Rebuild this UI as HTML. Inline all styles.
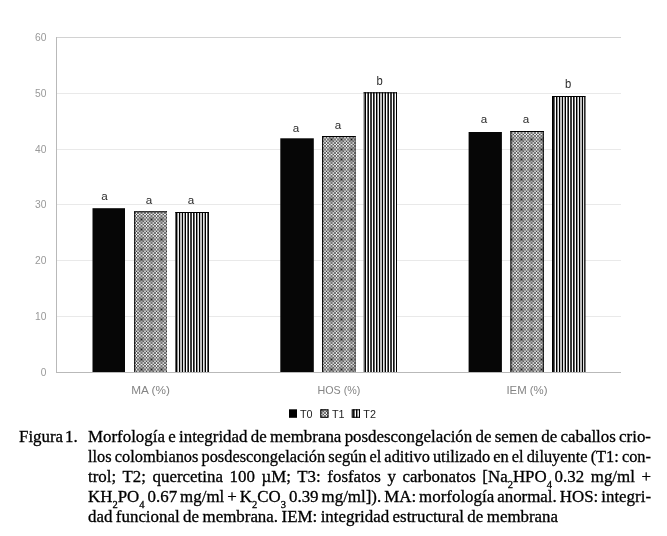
<!DOCTYPE html>
<html lang="es">
<head>
<meta charset="utf-8">
<title>Figura 1</title>
<style>
html,body{margin:0;padding:0;background:#fff;}
body{width:667px;height:536px;position:relative;overflow:hidden;font-family:"Liberation Serif",serif;}
#chart{position:absolute;left:0;top:0;width:667px;height:536px;}
#chart text{font-family:"Liberation Sans",sans-serif;}
.cap{position:absolute;font-family:"Liberation Serif",serif;font-size:16.9px;line-height:20px;color:#000;white-space:nowrap;height:20px;-webkit-text-stroke:0.3px #000;}
.j{left:88px;width:563px;transform-origin:0 0;text-align:justify;text-align-last:justify;white-space:normal;word-spacing:-3px;}
.ts{display:inline-block;width:2.6px;}
.cap sub{font-size:10.5px;vertical-align:baseline;position:relative;top:5.5px;line-height:0;}
</style>
</head>
<body>
<svg id="chart" width="667" height="536" viewBox="0 0 667 536">
  <defs>
    <pattern id="pT1" x="16" y="14" width="20" height="20" patternUnits="userSpaceOnUse">
      <rect width="20" height="20" fill="#fff"/>
      <g shape-rendering="crispEdges"><rect x="0" y="0" width="1" height="1" fill="#4c4c4c"/><rect x="1" y="0" width="2" height="1" fill="#ededed"/><rect x="3" y="0" width="1" height="1" fill="#4e4e4e"/><rect x="4" y="0" width="1" height="1" fill="#9f9f9f"/><rect x="5" y="0" width="1" height="1" fill="#ededed"/><rect x="6" y="0" width="1" height="1" fill="#9f9f9f"/><rect x="7" y="0" width="1" height="1" fill="#4e4e4e"/><rect x="8" y="0" width="2" height="1" fill="#ededed"/><rect x="10" y="0" width="1" height="1" fill="#4c4c4c"/><rect x="11" y="0" width="2" height="1" fill="#ededed"/><rect x="13" y="0" width="1" height="1" fill="#4e4e4e"/><rect x="14" y="0" width="1" height="1" fill="#9f9f9f"/><rect x="15" y="0" width="1" height="1" fill="#ededed"/><rect x="16" y="0" width="1" height="1" fill="#9f9f9f"/><rect x="17" y="0" width="1" height="1" fill="#4e4e4e"/><rect x="18" y="0" width="2" height="1" fill="#ededed"/><rect x="0" y="1" width="1" height="1" fill="#ededed"/><rect x="1" y="1" width="2" height="1" fill="#787878"/><rect x="3" y="1" width="1" height="1" fill="#c6c6c6"/><rect x="4" y="1" width="1" height="1" fill="#9f9f9f"/><rect x="5" y="1" width="1" height="1" fill="#787878"/><rect x="6" y="1" width="1" height="1" fill="#9f9f9f"/><rect x="7" y="1" width="1" height="1" fill="#c6c6c6"/><rect x="8" y="1" width="2" height="1" fill="#787878"/><rect x="10" y="1" width="1" height="1" fill="#ededed"/><rect x="11" y="1" width="2" height="1" fill="#787878"/><rect x="13" y="1" width="1" height="1" fill="#c6c6c6"/><rect x="14" y="1" width="1" height="1" fill="#9f9f9f"/><rect x="15" y="1" width="1" height="1" fill="#787878"/><rect x="16" y="1" width="1" height="1" fill="#9f9f9f"/><rect x="17" y="1" width="1" height="1" fill="#c6c6c6"/><rect x="18" y="1" width="2" height="1" fill="#787878"/><rect x="0" y="2" width="1" height="1" fill="#ededed"/><rect x="1" y="2" width="2" height="1" fill="#787878"/><rect x="3" y="2" width="1" height="1" fill="#c6c6c6"/><rect x="4" y="2" width="1" height="1" fill="#9f9f9f"/><rect x="5" y="2" width="1" height="1" fill="#787878"/><rect x="6" y="2" width="1" height="1" fill="#9f9f9f"/><rect x="7" y="2" width="1" height="1" fill="#c6c6c6"/><rect x="8" y="2" width="2" height="1" fill="#787878"/><rect x="10" y="2" width="1" height="1" fill="#ededed"/><rect x="11" y="2" width="2" height="1" fill="#787878"/><rect x="13" y="2" width="1" height="1" fill="#c6c6c6"/><rect x="14" y="2" width="1" height="1" fill="#9f9f9f"/><rect x="15" y="2" width="1" height="1" fill="#787878"/><rect x="16" y="2" width="1" height="1" fill="#9f9f9f"/><rect x="17" y="2" width="1" height="1" fill="#c6c6c6"/><rect x="18" y="2" width="2" height="1" fill="#787878"/><rect x="0" y="3" width="1" height="1" fill="#4e4e4e"/><rect x="1" y="3" width="2" height="1" fill="#c6c6c6"/><rect x="3" y="3" width="1" height="1" fill="#646464"/><rect x="4" y="3" width="1" height="1" fill="#878787"/><rect x="5" y="3" width="1" height="1" fill="#a9a9a9"/><rect x="6" y="3" width="1" height="1" fill="#878787"/><rect x="7" y="3" width="1" height="1" fill="#646464"/><rect x="8" y="3" width="2" height="1" fill="#c6c6c6"/><rect x="10" y="3" width="1" height="1" fill="#4e4e4e"/><rect x="11" y="3" width="2" height="1" fill="#c6c6c6"/><rect x="13" y="3" width="1" height="1" fill="#646464"/><rect x="14" y="3" width="1" height="1" fill="#878787"/><rect x="15" y="3" width="1" height="1" fill="#a9a9a9"/><rect x="16" y="3" width="1" height="1" fill="#878787"/><rect x="17" y="3" width="1" height="1" fill="#646464"/><rect x="18" y="3" width="2" height="1" fill="#c6c6c6"/><rect x="0" y="4" width="3" height="1" fill="#9f9f9f"/><rect x="3" y="4" width="1" height="1" fill="#878787"/><rect x="4" y="4" width="3" height="1" fill="#737373"/><rect x="7" y="4" width="1" height="1" fill="#878787"/><rect x="8" y="4" width="5" height="1" fill="#9f9f9f"/><rect x="13" y="4" width="1" height="1" fill="#878787"/><rect x="14" y="4" width="3" height="1" fill="#737373"/><rect x="17" y="4" width="1" height="1" fill="#878787"/><rect x="18" y="4" width="2" height="1" fill="#9f9f9f"/><rect x="0" y="5" width="1" height="1" fill="#ededed"/><rect x="1" y="5" width="2" height="1" fill="#787878"/><rect x="3" y="5" width="1" height="1" fill="#a9a9a9"/><rect x="4" y="5" width="1" height="1" fill="#737373"/><rect x="5" y="5" width="1" height="1" fill="#141414"/><rect x="6" y="5" width="1" height="1" fill="#737373"/><rect x="7" y="5" width="1" height="1" fill="#a9a9a9"/><rect x="8" y="5" width="2" height="1" fill="#787878"/><rect x="10" y="5" width="1" height="1" fill="#ededed"/><rect x="11" y="5" width="2" height="1" fill="#787878"/><rect x="13" y="5" width="1" height="1" fill="#a9a9a9"/><rect x="14" y="5" width="1" height="1" fill="#737373"/><rect x="15" y="5" width="1" height="1" fill="#141414"/><rect x="16" y="5" width="1" height="1" fill="#737373"/><rect x="17" y="5" width="1" height="1" fill="#a9a9a9"/><rect x="18" y="5" width="2" height="1" fill="#787878"/><rect x="0" y="6" width="3" height="1" fill="#9f9f9f"/><rect x="3" y="6" width="1" height="1" fill="#878787"/><rect x="4" y="6" width="3" height="1" fill="#737373"/><rect x="7" y="6" width="1" height="1" fill="#878787"/><rect x="8" y="6" width="5" height="1" fill="#9f9f9f"/><rect x="13" y="6" width="1" height="1" fill="#878787"/><rect x="14" y="6" width="3" height="1" fill="#737373"/><rect x="17" y="6" width="1" height="1" fill="#878787"/><rect x="18" y="6" width="2" height="1" fill="#9f9f9f"/><rect x="0" y="7" width="1" height="1" fill="#4e4e4e"/><rect x="1" y="7" width="2" height="1" fill="#c6c6c6"/><rect x="3" y="7" width="1" height="1" fill="#646464"/><rect x="4" y="7" width="1" height="1" fill="#878787"/><rect x="5" y="7" width="1" height="1" fill="#a9a9a9"/><rect x="6" y="7" width="1" height="1" fill="#878787"/><rect x="7" y="7" width="1" height="1" fill="#646464"/><rect x="8" y="7" width="2" height="1" fill="#c6c6c6"/><rect x="10" y="7" width="1" height="1" fill="#4e4e4e"/><rect x="11" y="7" width="2" height="1" fill="#c6c6c6"/><rect x="13" y="7" width="1" height="1" fill="#646464"/><rect x="14" y="7" width="1" height="1" fill="#878787"/><rect x="15" y="7" width="1" height="1" fill="#a9a9a9"/><rect x="16" y="7" width="1" height="1" fill="#878787"/><rect x="17" y="7" width="1" height="1" fill="#646464"/><rect x="18" y="7" width="2" height="1" fill="#c6c6c6"/><rect x="0" y="8" width="1" height="1" fill="#ededed"/><rect x="1" y="8" width="2" height="1" fill="#787878"/><rect x="3" y="8" width="1" height="1" fill="#c6c6c6"/><rect x="4" y="8" width="1" height="1" fill="#9f9f9f"/><rect x="5" y="8" width="1" height="1" fill="#787878"/><rect x="6" y="8" width="1" height="1" fill="#9f9f9f"/><rect x="7" y="8" width="1" height="1" fill="#c6c6c6"/><rect x="8" y="8" width="2" height="1" fill="#787878"/><rect x="10" y="8" width="1" height="1" fill="#ededed"/><rect x="11" y="8" width="2" height="1" fill="#787878"/><rect x="13" y="8" width="1" height="1" fill="#c6c6c6"/><rect x="14" y="8" width="1" height="1" fill="#9f9f9f"/><rect x="15" y="8" width="1" height="1" fill="#787878"/><rect x="16" y="8" width="1" height="1" fill="#9f9f9f"/><rect x="17" y="8" width="1" height="1" fill="#c6c6c6"/><rect x="18" y="8" width="2" height="1" fill="#787878"/><rect x="0" y="9" width="1" height="1" fill="#ededed"/><rect x="1" y="9" width="2" height="1" fill="#787878"/><rect x="3" y="9" width="1" height="1" fill="#c6c6c6"/><rect x="4" y="9" width="1" height="1" fill="#9f9f9f"/><rect x="5" y="9" width="1" height="1" fill="#787878"/><rect x="6" y="9" width="1" height="1" fill="#9f9f9f"/><rect x="7" y="9" width="1" height="1" fill="#c6c6c6"/><rect x="8" y="9" width="2" height="1" fill="#787878"/><rect x="10" y="9" width="1" height="1" fill="#ededed"/><rect x="11" y="9" width="2" height="1" fill="#787878"/><rect x="13" y="9" width="1" height="1" fill="#c6c6c6"/><rect x="14" y="9" width="1" height="1" fill="#9f9f9f"/><rect x="15" y="9" width="1" height="1" fill="#787878"/><rect x="16" y="9" width="1" height="1" fill="#9f9f9f"/><rect x="17" y="9" width="1" height="1" fill="#c6c6c6"/><rect x="18" y="9" width="2" height="1" fill="#787878"/><rect x="0" y="10" width="1" height="1" fill="#4c4c4c"/><rect x="1" y="10" width="2" height="1" fill="#ededed"/><rect x="3" y="10" width="1" height="1" fill="#4e4e4e"/><rect x="4" y="10" width="1" height="1" fill="#9f9f9f"/><rect x="5" y="10" width="1" height="1" fill="#ededed"/><rect x="6" y="10" width="1" height="1" fill="#9f9f9f"/><rect x="7" y="10" width="1" height="1" fill="#4e4e4e"/><rect x="8" y="10" width="2" height="1" fill="#ededed"/><rect x="10" y="10" width="1" height="1" fill="#4c4c4c"/><rect x="11" y="10" width="2" height="1" fill="#ededed"/><rect x="13" y="10" width="1" height="1" fill="#4e4e4e"/><rect x="14" y="10" width="1" height="1" fill="#9f9f9f"/><rect x="15" y="10" width="1" height="1" fill="#ededed"/><rect x="16" y="10" width="1" height="1" fill="#9f9f9f"/><rect x="17" y="10" width="1" height="1" fill="#4e4e4e"/><rect x="18" y="10" width="2" height="1" fill="#ededed"/><rect x="0" y="11" width="1" height="1" fill="#ededed"/><rect x="1" y="11" width="2" height="1" fill="#787878"/><rect x="3" y="11" width="1" height="1" fill="#c6c6c6"/><rect x="4" y="11" width="1" height="1" fill="#9f9f9f"/><rect x="5" y="11" width="1" height="1" fill="#787878"/><rect x="6" y="11" width="1" height="1" fill="#9f9f9f"/><rect x="7" y="11" width="1" height="1" fill="#c6c6c6"/><rect x="8" y="11" width="2" height="1" fill="#787878"/><rect x="10" y="11" width="1" height="1" fill="#ededed"/><rect x="11" y="11" width="2" height="1" fill="#787878"/><rect x="13" y="11" width="1" height="1" fill="#c6c6c6"/><rect x="14" y="11" width="1" height="1" fill="#9f9f9f"/><rect x="15" y="11" width="1" height="1" fill="#787878"/><rect x="16" y="11" width="1" height="1" fill="#9f9f9f"/><rect x="17" y="11" width="1" height="1" fill="#c6c6c6"/><rect x="18" y="11" width="2" height="1" fill="#787878"/><rect x="0" y="12" width="1" height="1" fill="#ededed"/><rect x="1" y="12" width="2" height="1" fill="#787878"/><rect x="3" y="12" width="1" height="1" fill="#c6c6c6"/><rect x="4" y="12" width="1" height="1" fill="#9f9f9f"/><rect x="5" y="12" width="1" height="1" fill="#787878"/><rect x="6" y="12" width="1" height="1" fill="#9f9f9f"/><rect x="7" y="12" width="1" height="1" fill="#c6c6c6"/><rect x="8" y="12" width="2" height="1" fill="#787878"/><rect x="10" y="12" width="1" height="1" fill="#ededed"/><rect x="11" y="12" width="2" height="1" fill="#787878"/><rect x="13" y="12" width="1" height="1" fill="#c6c6c6"/><rect x="14" y="12" width="1" height="1" fill="#9f9f9f"/><rect x="15" y="12" width="1" height="1" fill="#787878"/><rect x="16" y="12" width="1" height="1" fill="#9f9f9f"/><rect x="17" y="12" width="1" height="1" fill="#c6c6c6"/><rect x="18" y="12" width="2" height="1" fill="#787878"/><rect x="0" y="13" width="1" height="1" fill="#4e4e4e"/><rect x="1" y="13" width="2" height="1" fill="#c6c6c6"/><rect x="3" y="13" width="1" height="1" fill="#646464"/><rect x="4" y="13" width="1" height="1" fill="#878787"/><rect x="5" y="13" width="1" height="1" fill="#a9a9a9"/><rect x="6" y="13" width="1" height="1" fill="#878787"/><rect x="7" y="13" width="1" height="1" fill="#646464"/><rect x="8" y="13" width="2" height="1" fill="#c6c6c6"/><rect x="10" y="13" width="1" height="1" fill="#4e4e4e"/><rect x="11" y="13" width="2" height="1" fill="#c6c6c6"/><rect x="13" y="13" width="1" height="1" fill="#646464"/><rect x="14" y="13" width="1" height="1" fill="#878787"/><rect x="15" y="13" width="1" height="1" fill="#a9a9a9"/><rect x="16" y="13" width="1" height="1" fill="#878787"/><rect x="17" y="13" width="1" height="1" fill="#646464"/><rect x="18" y="13" width="2" height="1" fill="#c6c6c6"/><rect x="0" y="14" width="3" height="1" fill="#9f9f9f"/><rect x="3" y="14" width="1" height="1" fill="#878787"/><rect x="4" y="14" width="3" height="1" fill="#737373"/><rect x="7" y="14" width="1" height="1" fill="#878787"/><rect x="8" y="14" width="5" height="1" fill="#9f9f9f"/><rect x="13" y="14" width="1" height="1" fill="#878787"/><rect x="14" y="14" width="3" height="1" fill="#737373"/><rect x="17" y="14" width="1" height="1" fill="#878787"/><rect x="18" y="14" width="2" height="1" fill="#9f9f9f"/><rect x="0" y="15" width="1" height="1" fill="#ededed"/><rect x="1" y="15" width="2" height="1" fill="#787878"/><rect x="3" y="15" width="1" height="1" fill="#a9a9a9"/><rect x="4" y="15" width="1" height="1" fill="#737373"/><rect x="5" y="15" width="1" height="1" fill="#141414"/><rect x="6" y="15" width="1" height="1" fill="#737373"/><rect x="7" y="15" width="1" height="1" fill="#a9a9a9"/><rect x="8" y="15" width="2" height="1" fill="#787878"/><rect x="10" y="15" width="1" height="1" fill="#ededed"/><rect x="11" y="15" width="2" height="1" fill="#787878"/><rect x="13" y="15" width="1" height="1" fill="#a9a9a9"/><rect x="14" y="15" width="1" height="1" fill="#737373"/><rect x="15" y="15" width="1" height="1" fill="#141414"/><rect x="16" y="15" width="1" height="1" fill="#737373"/><rect x="17" y="15" width="1" height="1" fill="#a9a9a9"/><rect x="18" y="15" width="2" height="1" fill="#787878"/><rect x="0" y="16" width="3" height="1" fill="#9f9f9f"/><rect x="3" y="16" width="1" height="1" fill="#878787"/><rect x="4" y="16" width="3" height="1" fill="#737373"/><rect x="7" y="16" width="1" height="1" fill="#878787"/><rect x="8" y="16" width="5" height="1" fill="#9f9f9f"/><rect x="13" y="16" width="1" height="1" fill="#878787"/><rect x="14" y="16" width="3" height="1" fill="#737373"/><rect x="17" y="16" width="1" height="1" fill="#878787"/><rect x="18" y="16" width="2" height="1" fill="#9f9f9f"/><rect x="0" y="17" width="1" height="1" fill="#4e4e4e"/><rect x="1" y="17" width="2" height="1" fill="#c6c6c6"/><rect x="3" y="17" width="1" height="1" fill="#646464"/><rect x="4" y="17" width="1" height="1" fill="#878787"/><rect x="5" y="17" width="1" height="1" fill="#a9a9a9"/><rect x="6" y="17" width="1" height="1" fill="#878787"/><rect x="7" y="17" width="1" height="1" fill="#646464"/><rect x="8" y="17" width="2" height="1" fill="#c6c6c6"/><rect x="10" y="17" width="1" height="1" fill="#4e4e4e"/><rect x="11" y="17" width="2" height="1" fill="#c6c6c6"/><rect x="13" y="17" width="1" height="1" fill="#646464"/><rect x="14" y="17" width="1" height="1" fill="#878787"/><rect x="15" y="17" width="1" height="1" fill="#a9a9a9"/><rect x="16" y="17" width="1" height="1" fill="#878787"/><rect x="17" y="17" width="1" height="1" fill="#646464"/><rect x="18" y="17" width="2" height="1" fill="#c6c6c6"/><rect x="0" y="18" width="1" height="1" fill="#ededed"/><rect x="1" y="18" width="2" height="1" fill="#787878"/><rect x="3" y="18" width="1" height="1" fill="#c6c6c6"/><rect x="4" y="18" width="1" height="1" fill="#9f9f9f"/><rect x="5" y="18" width="1" height="1" fill="#787878"/><rect x="6" y="18" width="1" height="1" fill="#9f9f9f"/><rect x="7" y="18" width="1" height="1" fill="#c6c6c6"/><rect x="8" y="18" width="2" height="1" fill="#787878"/><rect x="10" y="18" width="1" height="1" fill="#ededed"/><rect x="11" y="18" width="2" height="1" fill="#787878"/><rect x="13" y="18" width="1" height="1" fill="#c6c6c6"/><rect x="14" y="18" width="1" height="1" fill="#9f9f9f"/><rect x="15" y="18" width="1" height="1" fill="#787878"/><rect x="16" y="18" width="1" height="1" fill="#9f9f9f"/><rect x="17" y="18" width="1" height="1" fill="#c6c6c6"/><rect x="18" y="18" width="2" height="1" fill="#787878"/><rect x="0" y="19" width="1" height="1" fill="#ededed"/><rect x="1" y="19" width="2" height="1" fill="#787878"/><rect x="3" y="19" width="1" height="1" fill="#c6c6c6"/><rect x="4" y="19" width="1" height="1" fill="#9f9f9f"/><rect x="5" y="19" width="1" height="1" fill="#787878"/><rect x="6" y="19" width="1" height="1" fill="#9f9f9f"/><rect x="7" y="19" width="1" height="1" fill="#c6c6c6"/><rect x="8" y="19" width="2" height="1" fill="#787878"/><rect x="10" y="19" width="1" height="1" fill="#ededed"/><rect x="11" y="19" width="2" height="1" fill="#787878"/><rect x="13" y="19" width="1" height="1" fill="#c6c6c6"/><rect x="14" y="19" width="1" height="1" fill="#9f9f9f"/><rect x="15" y="19" width="1" height="1" fill="#787878"/><rect x="16" y="19" width="1" height="1" fill="#9f9f9f"/><rect x="17" y="19" width="1" height="1" fill="#c6c6c6"/><rect x="18" y="19" width="2" height="1" fill="#787878"/></g>
    </pattern>
    <pattern id="pT2" x="16" y="0" width="20" height="20" patternUnits="userSpaceOnUse">
      <rect width="20" height="20" fill="#fff"/>
      <g shape-rendering="crispEdges"><rect x="0" y="0" width="1" height="20" fill="#000000"/><rect x="1" y="0" width="1" height="20" fill="#8e8e8e"/><rect x="2" y="0" width="1" height="20" fill="#ededed"/><rect x="3" y="0" width="1" height="20" fill="#000000"/><rect x="4" y="0" width="1" height="20" fill="#b9b9b9"/><rect x="5" y="0" width="1" height="20" fill="#c2c2c2"/><rect x="6" y="0" width="1" height="20" fill="#000000"/><rect x="7" y="0" width="1" height="20" fill="#e4e4e4"/><rect x="8" y="0" width="1" height="20" fill="#979797"/><rect x="9" y="0" width="1" height="20" fill="#000000"/><rect x="11" y="0" width="1" height="20" fill="#686868"/><rect x="12" y="0" width="1" height="20" fill="#0d0d0d"/><rect x="14" y="0" width="1" height="20" fill="#3d3d3d"/><rect x="15" y="0" width="1" height="20" fill="#383838"/><rect x="17" y="0" width="1" height="20" fill="#121212"/><rect x="18" y="0" width="1" height="20" fill="#636363"/></g>
    </pattern>
  </defs>
  <g stroke="#e9e9e9" stroke-width="1" shape-rendering="crispEdges">
    <line x1="57" x2="621" y1="93.5" y2="93.5"/>
    <line x1="57" x2="621" y1="149.5" y2="149.5"/>
    <line x1="57" x2="621" y1="204.5" y2="204.5"/>
    <line x1="57" x2="621" y1="260.5" y2="260.5"/>
    <line x1="57" x2="621" y1="316.5" y2="316.5"/>
  </g>
  <line x1="57" x2="621" y1="37.5" y2="37.5" stroke="#d2d2d2" stroke-width="1" shape-rendering="crispEdges"/>
  <g>
    <rect x="92.5" y="208.2" width="32.5" height="163.8" fill="#060606"/>
    <rect x="134.2" y="211.3" width="32.8" height="160.7" fill="url(#pT1)"/>
    <line x1="134.7" x2="134.7" y1="211.3" y2="372.0" stroke="#000" stroke-width="1" stroke-opacity="1"/>
    <line x1="166.5" x2="166.5" y1="211.3" y2="372.0" stroke="#000" stroke-width="1" stroke-opacity="0.3"/>
    <line x1="134.2" x2="167.0" y1="211.8" y2="211.8" stroke="#000" stroke-width="1" stroke-opacity="1"/>
    <rect x="175.4" y="212.0" width="33.5" height="160.0" fill="url(#pT2)"/>
    <line x1="175.9" x2="175.9" y1="212.0" y2="372.0" stroke="#000" stroke-width="1" stroke-opacity="1"/>
    <line x1="208.4" x2="208.4" y1="212.0" y2="372.0" stroke="#000" stroke-width="1" stroke-opacity="1"/>
    <line x1="175.4" x2="208.9" y1="212.5" y2="212.5" stroke="#000" stroke-width="1" stroke-opacity="1"/>
    <rect x="280.3" y="138.3" width="33.5" height="233.7" fill="#060606"/>
    <rect x="322.1" y="136.0" width="33.6" height="236.0" fill="url(#pT1)"/>
    <line x1="322.6" x2="322.6" y1="136.0" y2="372.0" stroke="#000" stroke-width="1" stroke-opacity="1"/>
    <line x1="355.2" x2="355.2" y1="136.0" y2="372.0" stroke="#000" stroke-width="1" stroke-opacity="0.65"/>
    <line x1="322.1" x2="355.70000000000005" y1="136.5" y2="136.5" stroke="#000" stroke-width="1" stroke-opacity="1"/>
    <rect x="363.6" y="92.3" width="33.4" height="279.7" fill="url(#pT2)"/>
    <line x1="364.1" x2="364.1" y1="92.3" y2="372.0" stroke="#000" stroke-width="1" stroke-opacity="0.6"/>
    <line x1="396.5" x2="396.5" y1="92.3" y2="372.0" stroke="#000" stroke-width="1" stroke-opacity="0.6"/>
    <line x1="363.6" x2="397.0" y1="92.8" y2="92.8" stroke="#000" stroke-width="1" stroke-opacity="1"/>
    <rect x="468.6" y="132.0" width="33.3" height="240.0" fill="#060606"/>
    <rect x="510.4" y="131.0" width="33.4" height="241.0" fill="url(#pT1)"/>
    <line x1="510.9" x2="510.9" y1="131.0" y2="372.0" stroke="#000" stroke-width="1" stroke-opacity="1"/>
    <line x1="543.3" x2="543.3" y1="131.0" y2="372.0" stroke="#000" stroke-width="1" stroke-opacity="1"/>
    <line x1="510.4" x2="543.8" y1="131.5" y2="131.5" stroke="#000" stroke-width="1" stroke-opacity="1"/>
    <rect x="552.0" y="96.0" width="33.3" height="276.0" fill="url(#pT2)"/>
    <line x1="552.5" x2="552.5" y1="96.0" y2="372.0" stroke="#000" stroke-width="1" stroke-opacity="1"/>
    <line x1="584.8" x2="584.8" y1="96.0" y2="372.0" stroke="#000" stroke-width="1" stroke-opacity="1"/>
    <line x1="552.0" x2="585.3" y1="96.5" y2="96.5" stroke="#000" stroke-width="1" stroke-opacity="1"/>
  </g>
  <line x1="56.5" x2="56.5" y1="37" y2="373" stroke="#b9b9b9" stroke-width="1" shape-rendering="crispEdges"/>
  <line x1="56" x2="621" y1="372.5" y2="372.5" stroke="#b9b9b9" stroke-width="1" shape-rendering="crispEdges"/>
  <g font-size="10" fill="#999999">
    <text x="35.0" y="40.8" textLength="11.4" lengthAdjust="spacingAndGlyphs">60</text>
    <text x="35.0" y="96.8" textLength="11.4" lengthAdjust="spacingAndGlyphs">50</text>
    <text x="35.0" y="152.8" textLength="11.4" lengthAdjust="spacingAndGlyphs">40</text>
    <text x="35.0" y="207.8" textLength="11.4" lengthAdjust="spacingAndGlyphs">30</text>
    <text x="35.0" y="263.8" textLength="11.4" lengthAdjust="spacingAndGlyphs">20</text>
    <text x="35.0" y="319.8" textLength="11.4" lengthAdjust="spacingAndGlyphs">10</text>
    <text x="40.8" y="375.8" textLength="5.6" lengthAdjust="spacingAndGlyphs">0</text>
  </g>
  <g font-size="10.3" fill="#858585">
    <text x="131.3" y="393.5" textLength="38.6" lengthAdjust="spacingAndGlyphs">MA (%)</text>
    <text x="317.5" y="393.5" textLength="42.9" lengthAdjust="spacingAndGlyphs">HOS (%)</text>
    <text x="506.4" y="393.5" textLength="41.1" lengthAdjust="spacingAndGlyphs">IEM (%)</text>
  </g>
  <g font-size="11.6" fill="#2a2a2a" text-anchor="middle">
    <text x="104.5" y="199.8">a</text>
    <text x="149" y="203.5">a</text>
    <text x="191" y="203.5">a</text>
    <text x="295.9" y="131.8">a</text>
    <text x="337.9" y="128.6">a</text>
    <text transform="translate(379.5,84.6) scale(0.97,1.12)" x="0" y="0">b</text>
    <text x="483.9" y="122.8">a</text>
    <text x="525.9" y="122.5">a</text>
    <text transform="translate(568,88.2) scale(0.97,1.12)" x="0" y="0">b</text>
  </g>
  <g>
    <rect x="289" y="409.3" width="8" height="8.5" fill="#000"/>
    <rect x="320.3" y="409.3" width="8.2" height="8.5" fill="url(#pT1)"/>
    <rect x="320.8" y="409.8" width="7.2" height="7.5" fill="none" stroke="#000"/>
    <rect x="351.8" y="409.3" width="8.2" height="8.5" fill="url(#pT2)"/>
    <rect x="352.3" y="409.8" width="7.2" height="7.5" fill="none" stroke="#000"/>
  </g>
  <g font-size="10.8" fill="#222">
    <text x="300" y="417.8">T0</text>
    <text x="332" y="417.8">T1</text>
    <text x="363.3" y="417.8">T2</text>
  </g>
</svg>
<div class="cap" style="left:19px;top:427.0px;word-spacing:-2.2px;">Figura 1.</div>
<div class="cap j" style="top:427.0px;width:563.00px;">Morfología e integridad de membrana posdescongelación de semen de caballos crio-</div>
<div class="cap j" style="top:447.0px;width:580.41px;transform:scaleX(0.97);">llos colombianos posdescongelación según el aditivo utilizado en el diluyente (T1: con-</div>
<div class="cap j" style="top:467.0px;width:563.00px;">trol; T2; quercetina 100 µM; T3: fosfatos y carbonatos [Na<sub>2</sub>HPO<sub>4</sub><span class='ts'> </span>0.32 mg/ml +</div>
<div class="cap j" style="top:487.0px;width:563.00px;">KH<sub>2</sub>PO<sub>4</sub> 0.67 mg/ml + K<sub>2</sub>CO<sub>3</sub> 0.39 mg/ml]). MA: morfología anormal. HOS: integri-</div>
<div class="cap" style="left:88px;top:507.0px;word-spacing:-0.75px;">dad funcional de membrana. IEM: integridad estructural de membrana</div>
</body>
</html>
